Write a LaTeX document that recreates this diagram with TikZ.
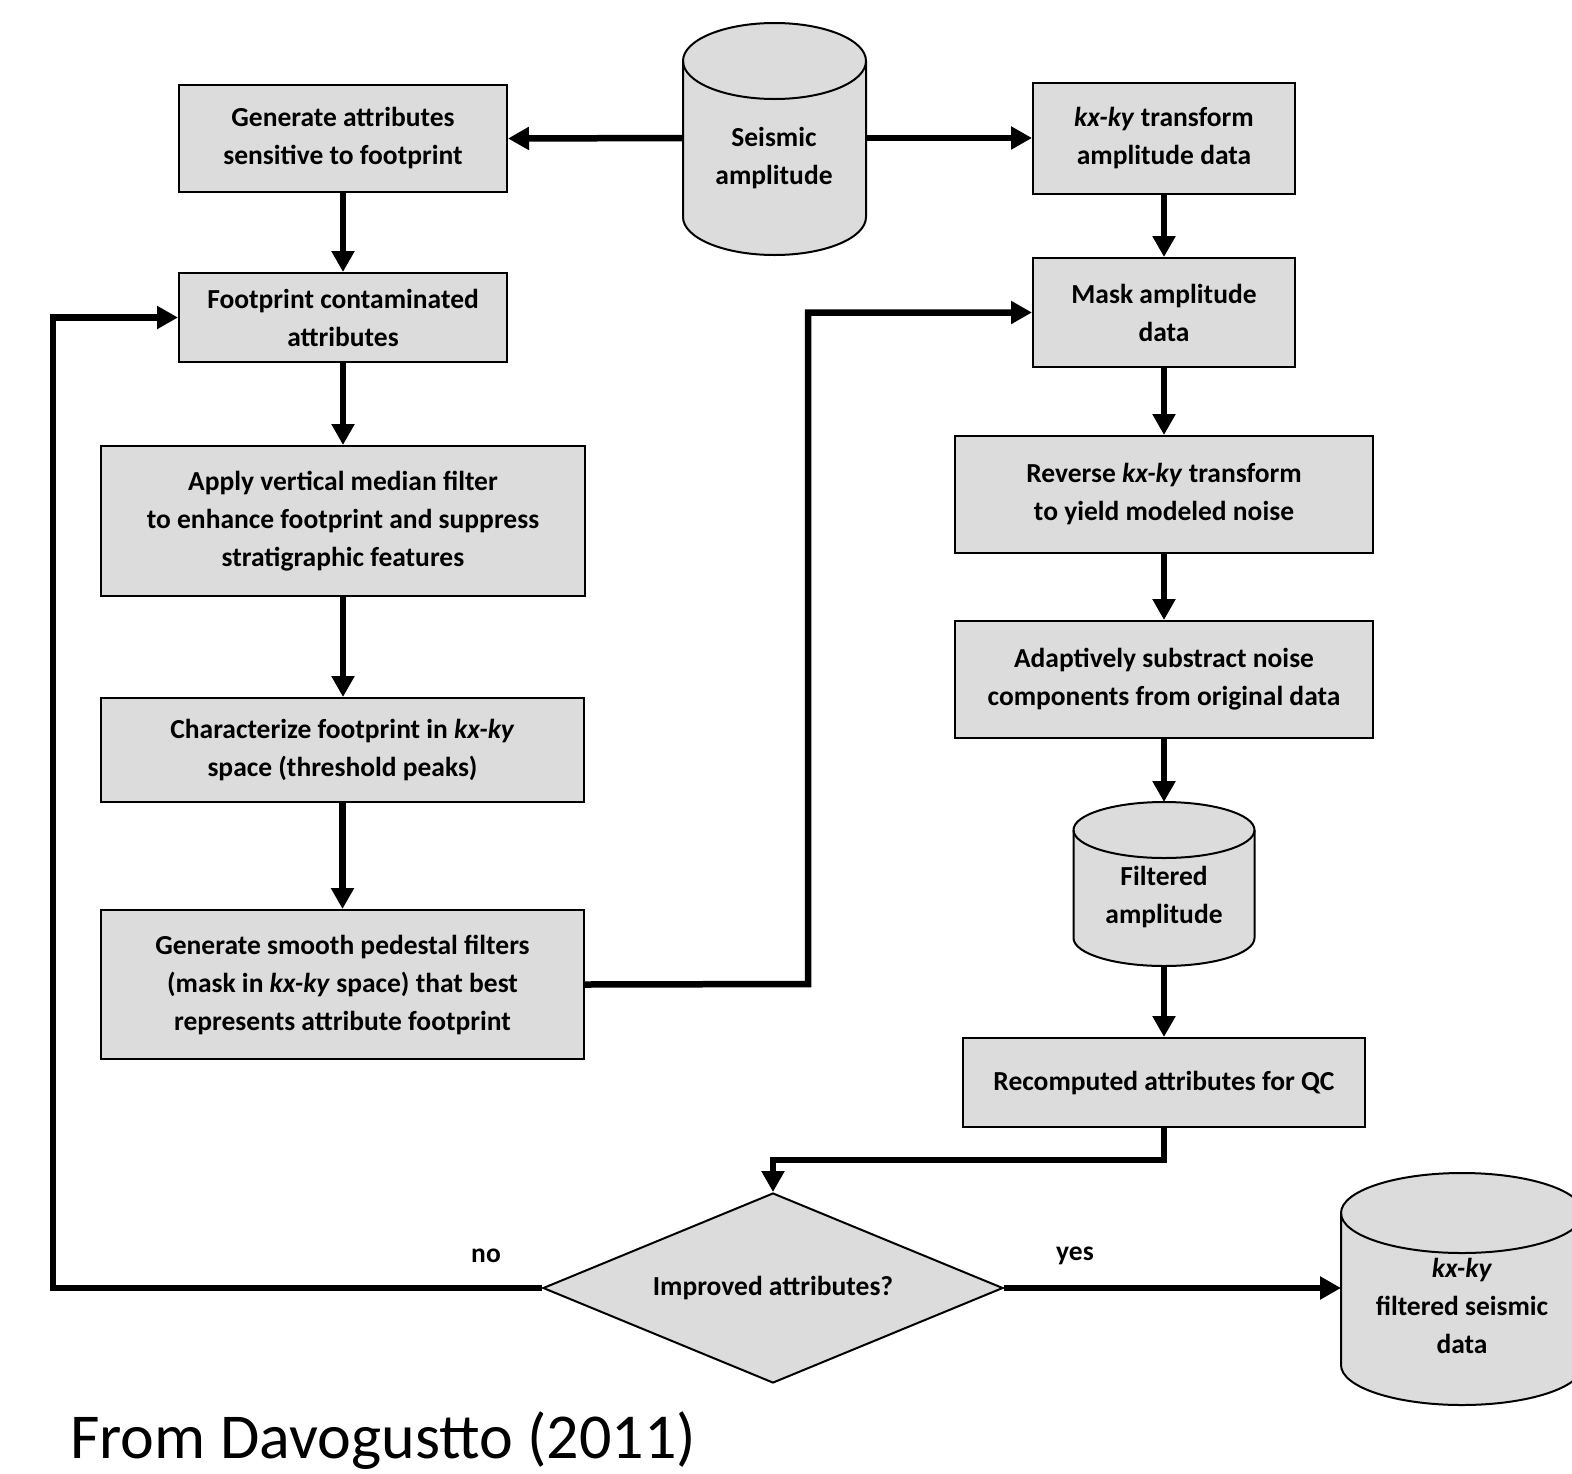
\documentclass[tikz,border=0pt]{standalone}
\usepackage{fontspec}
\setmainfont{Carlito}
\usetikzlibrary{arrows.meta,shapes.geometric,calc}
\definecolor{boxgray}{HTML}{DCDCDC}
\newcommand\fs{\fontsize{27.5}{38}\selectfont\bfseries}
\newcommand\cylshape[5]{% cx, top y, bottom y, rx, ry
  \fill[boxgray] (#1-#4,#2+#5) -- (#1-#4,#3-#5) arc[start angle=180,end angle=360,x radius=#4pt,y radius=#5pt] -- (#1+#4,#2+#5) arc[start angle=0,end angle=180,x radius=#4pt,y radius=#5pt] -- cycle;
  \draw[thin border] (#1-#4,#2+#5) -- (#1-#4,#3-#5) arc[start angle=180,end angle=360,x radius=#4pt,y radius=#5pt] -- (#1+#4,#2+#5);
  \draw[thin border] (#1,#2+#5) ellipse [x radius=#4pt,y radius=#5pt];
}
\begin{document}
\begin{tikzpicture}[x=1pt,y=-1pt,
  thin border/.style={draw=black,line width=2pt},
  box/.style={thin border,fill=boxgray,align=center,inner sep=0pt,font=\fs},
  txt/.style={align=center,inner sep=0pt,font=\fs},
  arr/.style={line width=6.5pt,-{Triangle[length=21pt,width=22pt]}}]
\useasboundingbox (0,0) rectangle (1572,1473);
\fill[white] (0,0) rectangle (1572,1473);

% left column
\node[box,minimum width=328pt,minimum height=107pt] (gen) at (343,138.5) {Generate attributes\\sensitive to footprint};
\node[box,minimum width=328pt,minimum height=89pt] (foot) at (343,317.5) {Footprint contaminated\\attributes};
\node[box,minimum width=484pt,minimum height=150pt] (apply) at (343,521) {Apply vertical median filter\\to enhance footprint and suppress\\stratigraphic features};
\node[box,minimum width=483pt,minimum height=104pt] (charz) at (342.5,750) {Characterize footprint in \textit{kx-ky}\\space (threshold peaks)};
\node[box,minimum width=483pt,minimum height=149pt] (smooth) at (342.5,984.5) {Generate smooth pedestal filters\\(mask in \textit{kx-ky} space) that best\\represents attribute footprint};

% seismic amplitude cylinder
\cylshape{774.5}{23}{255}{91.5}{38}
\node[txt] (seis) at (774,158) {Seismic\\amplitude};
\coordinate (seisL) at (683,138);
\coordinate (seisR) at (866,138);

% right column
\node[box,minimum width=262pt,minimum height=111pt] (kxt) at (1164,138) {\textit{kx-ky} transform\\amplitude data};
\node[box,minimum width=262pt,minimum height=109pt] (mask) at (1164,312.5) {Mask amplitude\\data};
\node[box,minimum width=418pt,minimum height=117pt] (rev) at (1164,494.5) {Reverse \textit{kx-ky} transform\\to yield modeled noise};
\node[box,minimum width=418pt,minimum height=117pt] (adapt) at (1164,679.5) {Adaptively substract noise\\components from original data};

% filtered amplitude cylinder
\cylshape{1164}{802}{966}{90.5}{28}
\node[txt] (filt) at (1164,897) {Filtered\\amplitude};
\coordinate (filtT) at (1164,802);
\coordinate (filtB) at (1164,966);

\node[box,minimum width=402pt,minimum height=89pt] (recomp) at (1164,1082.5) {Recomputed attributes for QC};

\node[diamond,aspect=2.42,thin border,fill=boxgray,inner sep=0pt,minimum width=460pt,minimum height=190pt,font=\fs] (dec) at (773,1288) {Improved attributes?};

% output cylinder
\cylshape{1462}{1173}{1405}{121}{40}
\node[txt] (out) at (1462,1306) {\textit{kx-ky}\\filtered seismic\\data};
\coordinate (outL) at (1341,1288);

% connectors
\draw[arr] (seisL) -- (gen.east);
\draw[arr] (seisR) -- (seisR -| kxt.west);
\draw[arr] (gen.south) -- (foot.north);
\draw[arr] (foot.south) -- (apply.north);
\draw[arr] (apply.south) -- (apply.south |- charz.north);
\draw[arr] (charz.south) -- (charz.south |- smooth.north);
\coordinate (j1) at (808,984);
\draw[arr] (smooth.east) -- (j1) |- (mask.west);
\draw[arr] (kxt.south) -- (mask.north);
\draw[arr] (mask.south) -- (rev.north);
\draw[arr] (rev.south) -- (adapt.north);
\draw[arr] (adapt.south) -- (filtT);
\draw[arr] (filtB) -- (recomp.north);
\coordinate (j2) at (1164,1160);
\draw[arr] (recomp.south) -- (j2) -| (dec.north);
\coordinate (j3) at (53,1288);
\draw[arr] (dec.west) -- (j3) |- (foot.west);
\draw[arr] (dec.east) -- (outL);

\node[txt] (no) at (486,1256) {no};
\node[txt] (yes) at (1075,1256) {yes};

\node[anchor=base west,inner sep=0pt,font=\fontsize{64}{72}\selectfont] (src) at (70,1458) {From Davogustto (2011)};
\end{tikzpicture}
\end{document}
